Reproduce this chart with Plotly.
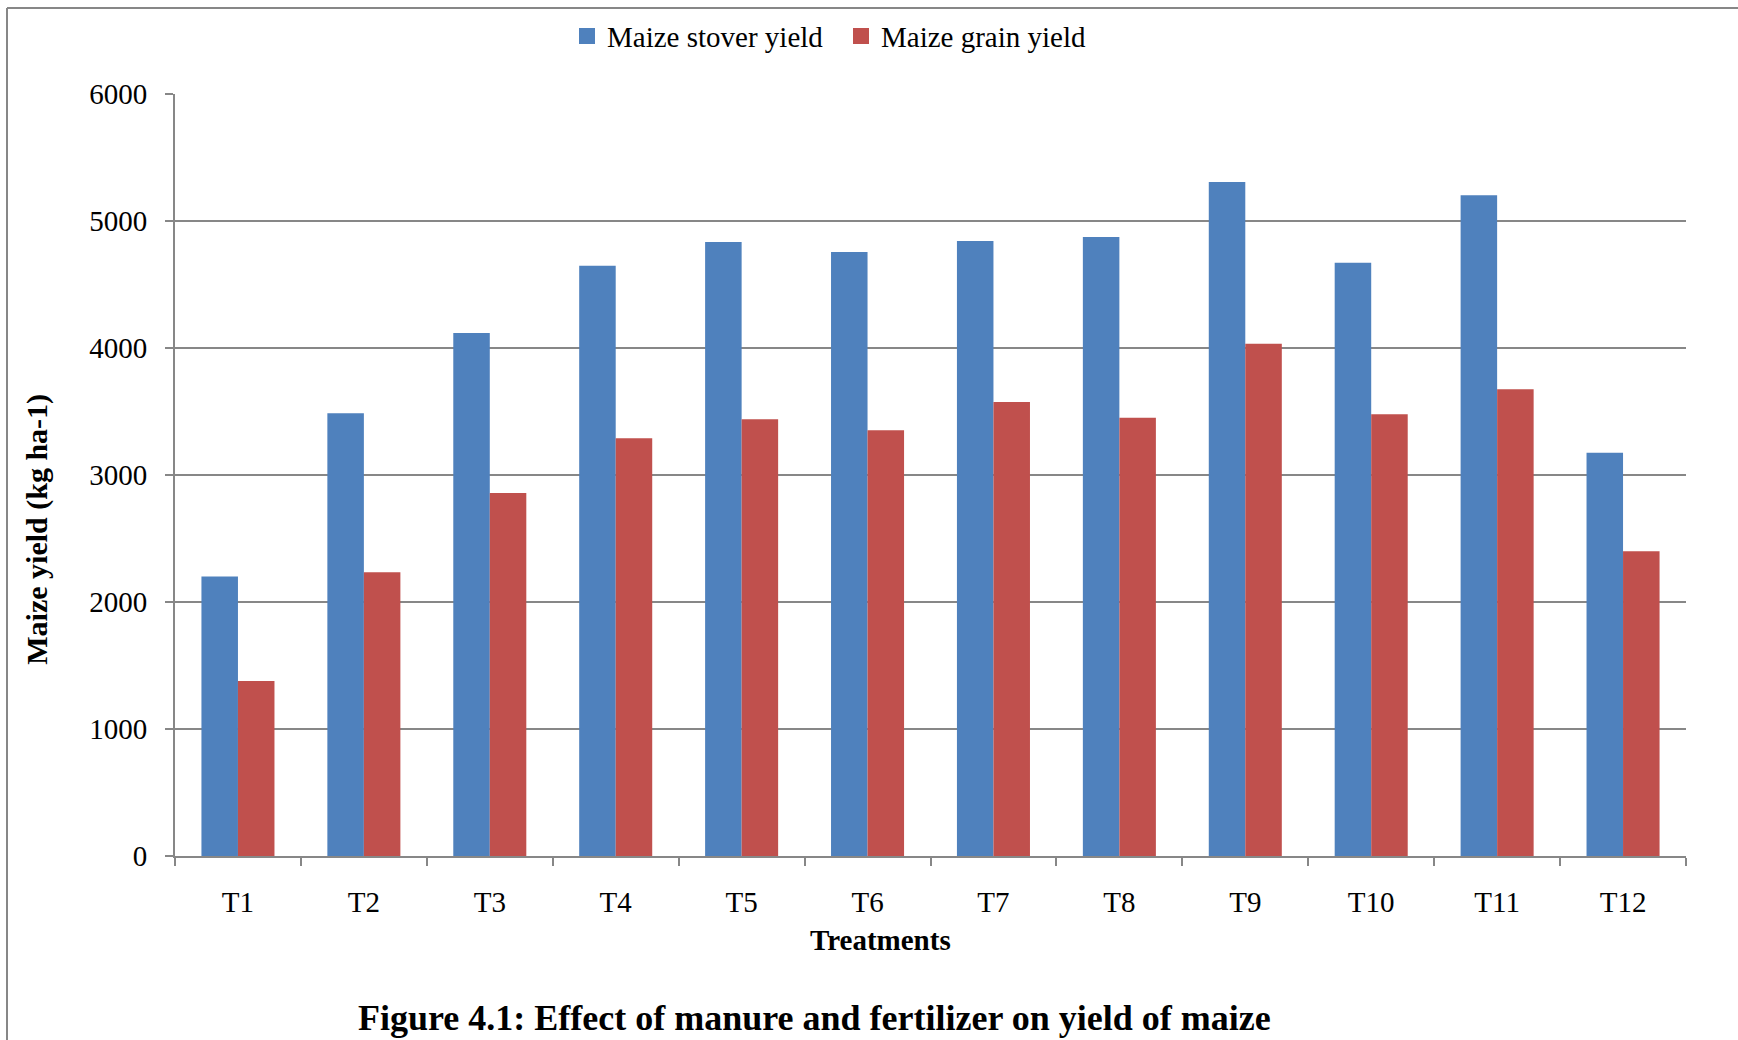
import plotly.graph_objects as go

# Treatments and measured maize yields (kg ha-1)
treatments = ["T1", "T2", "T3", "T4", "T5", "T6", "T7", "T8", "T9", "T10", "T11", "T12"]
stover_yield = [2200, 3487, 4118, 4647, 4834, 4755, 4843, 4874, 5307, 4672, 5202, 3176]
grain_yield = [1378, 2234, 2858, 3289, 3439, 3352, 3575, 3451, 4034, 3478, 3675, 2399]
y_ticks = [0, 1000, 2000, 3000, 4000, 5000, 6000]

BLUE = "#4F81BD"
RED = "#C0504D"
GRID = "#878787"
SERIF = "Liberation Serif, Times New Roman, serif"

W, H = 1738, 1040
L, R, T, B = 175, 52, 94, 183.5
PW, PH = W - L - R, H - T - B


def px_x(x):
    return (x - L) / PW


def px_y(y):
    return (H - B - y) / PH


fig = go.Figure()
series = [("Maize stover yield", stover_yield, BLUE, "stover"),
          ("Maize grain yield", grain_yield, RED, "grain")]
for name, values, colour, group in series:
    fig.add_trace(go.Bar(name=name, x=treatments, y=values, legendgroup=group,
                         showlegend=False,
                         marker=dict(color=colour, line=dict(width=0))))
# square legend keys
for name, values, colour, group in series:
    fig.add_trace(go.Scatter(name=name, x=[None], y=[None], mode="markers",
                             legendgroup=group, hoverinfo="skip",
                             marker=dict(symbol="square", size=19, color=colour,
                                         line=dict(width=0))))

fig.update_layout(
    width=W, height=H,
    margin=dict(l=L, r=R, t=T, b=B, autoexpand=False),
    paper_bgcolor="white", plot_bgcolor="white",
    barmode="group", bargap=0.42, bargroupgap=0,
    font=dict(family=SERIF, size=29, color="black"),
    showlegend=True,
    legend=dict(orientation="h", x=px_x(841), xanchor="center",
                y=px_y(36), yanchor="middle", itemwidth=30, entrywidth=229,
                font=dict(family=SERIF, size=29, color="black"),
                bgcolor="rgba(0,0,0,0)", traceorder="normal"),
    xaxis=dict(
        showgrid=False, showline=True, linecolor=GRID, linewidth=2,
        ticks="outside", tickson="boundaries", ticklen=8, tickcolor=GRID, tickwidth=2,
        tickfont=dict(family=SERIF, size=29, color="black"),
        ticklabelstandoff=19,
        automargin=False,
    ),
    yaxis=dict(
        range=[0, 6000], tickvals=y_ticks, showgrid=True, gridcolor=GRID, gridwidth=2,
        showline=True, linecolor=GRID, linewidth=2, zeroline=False,
        ticks="outside", ticklen=8, tickcolor=GRID, tickwidth=2,
        tickfont=dict(family=SERIF, size=29, color="black"),
        ticklabelstandoff=12,
        automargin=False,
    ),
    shapes=[
        # outer chart frame (top and left edges)
        dict(type="line", xref="paper", yref="paper", x0=px_x(7), x1=1.1,
             y0=px_y(8), y1=px_y(8), line=dict(color=GRID, width=2)),
        dict(type="line", xref="paper", yref="paper", x0=px_x(7), x1=px_x(7),
             y0=px_y(8), y1=-0.4, line=dict(color=GRID, width=2)),
    ],
    annotations=[
        # axis titles
        dict(text="<b>Maize yield (kg ha-1)</b>", textangle=-90,
             xref="paper", yref="paper", x=px_x(37), y=px_y(530),
             xanchor="center", yanchor="middle", showarrow=False,
             font=dict(family=SERIF, size=30, color="black")),
        dict(text="<b>Treatments</b>",
             xref="paper", yref="paper", x=px_x(880), y=px_y(941),
             xanchor="center", yanchor="middle", showarrow=False,
             font=dict(family=SERIF, size=29, color="black")),
        # figure caption
        dict(text="<b>Figure 4.1: Effect of manure and fertilizer on yield of maize</b>",
             xref="paper", yref="paper", x=px_x(814), y=px_y(1019),
             xanchor="center", yanchor="middle", showarrow=False,
             font=dict(family=SERIF, size=36, color="black")),
    ],
)

fig.write_html("out.html")
